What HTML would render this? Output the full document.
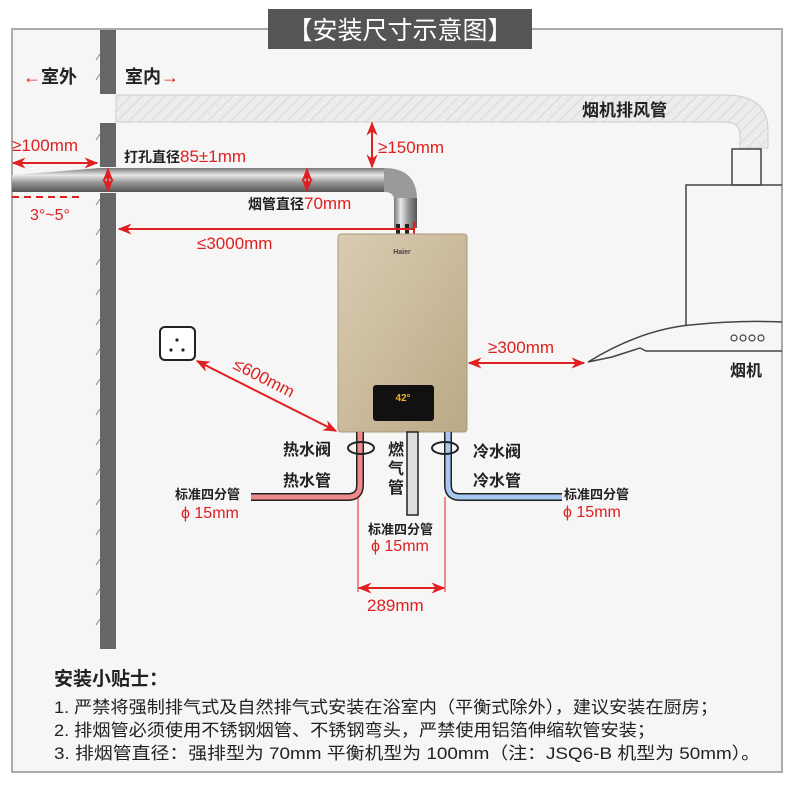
<!DOCTYPE html>
<html><head><meta charset="utf-8"><style>
body{margin:0;background:#fff}
svg{display:block}
text{font-family:"Liberation Sans","Noto Sans CJK SC",sans-serif}
</style></head><body>
<svg width="800" height="800" viewBox="0 0 800 800" xmlns="http://www.w3.org/2000/svg">
<defs>
<linearGradient id="pipeH" x1="0" y1="0" x2="0" y2="1">
<stop offset="0" stop-color="#777"/><stop offset="0.3" stop-color="#e8e8e8"/><stop offset="0.6" stop-color="#999"/><stop offset="1" stop-color="#555"/></linearGradient>
<linearGradient id="pipeV" x1="0" y1="0" x2="1" y2="0">
<stop offset="0" stop-color="#777"/><stop offset="0.3" stop-color="#e8e8e8"/><stop offset="0.6" stop-color="#999"/><stop offset="1" stop-color="#555"/></linearGradient>
<linearGradient id="gold" x1="0" y1="0" x2="1" y2="1">
<stop offset="0" stop-color="#d9ccb3"/><stop offset="0.5" stop-color="#cbbb9c"/><stop offset="1" stop-color="#b9a985"/></linearGradient>
<pattern id="hatch" width="8" height="8" patternUnits="userSpaceOnUse" patternTransform="rotate(45)"><rect width="8" height="8" fill="#ececec"/><line x1="0" y1="0" x2="0" y2="8" stroke="#dedede" stroke-width="3"/></pattern>
<marker id="a" viewBox="0 0 10 10" refX="9" refY="5" markerWidth="7" markerHeight="7" orient="auto-start-reverse"><path d="M0,1 L10,5 L0,9 L3,5z" fill="#e02020"/></marker>
</defs>
<rect x="12" y="29" width="770" height="743" fill="#f6f6f6" stroke="#aaa" stroke-width="2"/>
<rect x="268" y="9" width="264" height="40" fill="#555"/>
<text x="400" y="39" font-size="25" fill="#fff" text-anchor="middle">【安装尺寸示意图】</text>
<rect x="100" y="30" width="16" height="64" fill="#666"/>
<rect x="100" y="123" width="16" height="44" fill="#666"/>
<rect x="100" y="193" width="16" height="456" fill="#666"/>
<g stroke="#888" stroke-width="1">
<path d="M96,60 l4,-6 M96,80 l4,-6 M96,140 l4,-6 M96,205 l4,-6 M96,235 l4,-6 M96,265 l4,-6 M96,295 l4,-6 M96,325 l4,-6 M96,355 l4,-6 M96,385 l4,-6 M96,415 l4,-6 M96,445 l4,-6 M96,475 l4,-6 M96,505 l4,-6 M96,535 l4,-6 M96,565 l4,-6 M96,595 l4,-6 M96,625 l4,-6"/></g>
<path d="M116,95 H725 Q768,95 768,130 V148 H740 V135 Q740,122 725,122 H116 Z" fill="url(#hatch)" stroke="#ccc"/>
<rect x="732" y="149" width="29" height="36" fill="#f6f6f6" stroke="#444" stroke-width="1.5"/>
<path d="M686,325 V185 H782" fill="none" stroke="#444" stroke-width="1.5"/>
<path d="M588,362 Q640,330 690,325 Q740,320 782,322 M588,362 L612,357 L640,348 L646,351 L782,351" fill="none" stroke="#444" stroke-width="1.5"/>
<g fill="none" stroke="#444" stroke-width="1.2"><circle cx="734" cy="338" r="3"/><circle cx="743" cy="338" r="3"/><circle cx="752" cy="338" r="3"/><circle cx="761" cy="338" r="3"/></g>
<text x="730" y="376" font-size="16" font-weight="bold" fill="#222">烟机</text>
<text x="582" y="116" font-size="17" font-weight="bold" fill="#222">烟机排风管</text>
<path d="M12,175 L100,168 L100,192 L12,192 Z" fill="url(#pipeH)"/>
<rect x="100" y="168" width="284" height="24" fill="url(#pipeH)"/>
<path d="M384,168 Q417,168 417,200 V225 H394 V200 Q394,192 384,192 Z" fill="#9a9a9a"/>
<rect x="394" y="198" width="23" height="30" fill="url(#pipeV)"/>
<rect x="396" y="224" width="4" height="10" fill="#222"/><rect x="405" y="224" width="4" height="10" fill="#222"/>
<text x="23" y="83" font-size="18" font-weight="bold" fill="#222"><tspan fill="#e02020">←</tspan>室外</text>
<text x="125" y="83" font-size="18" font-weight="bold" fill="#222">室内<tspan fill="#e02020">→</tspan></text>
<text x="12" y="151" font-size="17" fill="#e02020">≥100mm</text>
<line x1="13" y1="163" x2="97" y2="163" stroke="#e02020" stroke-width="2" marker-start="url(#a)" marker-end="url(#a)"/>
<text x="124" y="162" font-size="14" font-weight="bold" fill="#222">打孔直径<tspan font-size="17" font-weight="normal" fill="#e02020">85±1mm</tspan></text>
<line x1="108" y1="169" x2="108" y2="191" stroke="#e02020" stroke-width="2" marker-start="url(#a)" marker-end="url(#a)"/>
<line x1="372" y1="123" x2="372" y2="167" stroke="#e02020" stroke-width="2" marker-start="url(#a)" marker-end="url(#a)"/>
<text x="378" y="153" font-size="17" fill="#e02020">≥150mm</text>
<line x1="307" y1="169" x2="307" y2="191" stroke="#e02020" stroke-width="2" marker-start="url(#a)" marker-end="url(#a)"/>
<text x="248" y="209" font-size="14" font-weight="bold" fill="#222">烟管直径<tspan font-size="17" font-weight="normal" fill="#e02020">70mm</tspan></text>
<line x1="12" y1="197" x2="80" y2="197" stroke="#e02020" stroke-width="2" stroke-dasharray="7,5"/>
<text x="30" y="220" font-size="16" fill="#e02020">3°~5°</text>
<line x1="119" y1="229" x2="414" y2="229" stroke="#e02020" stroke-width="2" marker-start="url(#a)"/>
<line x1="414" y1="222" x2="414" y2="234" stroke="#e02020" stroke-width="2"/>
<text x="197" y="249" font-size="17" fill="#e02020">≤3000mm</text>
<rect x="338" y="234" width="129" height="198" rx="3" fill="url(#gold)" stroke="#a8987a"/>
<text x="402" y="254" font-size="7" fill="#444" text-anchor="middle" font-weight="bold">Haier</text>
<rect x="373" y="385" width="61" height="36" rx="3" fill="#111"/>
<text x="403" y="401" font-size="10" fill="#f0b020" text-anchor="middle" font-weight="bold">42°</text>
<rect x="160" y="327" width="35" height="33" rx="5" fill="#fff" stroke="#222" stroke-width="2"/>
<circle cx="177" cy="340" r="1.6" fill="#222"/><circle cx="171" cy="350" r="1.6" fill="#222"/><circle cx="183" cy="350" r="1.6" fill="#222"/>
<line x1="197" y1="361" x2="336" y2="431" stroke="#e02020" stroke-width="2" marker-start="url(#a)" marker-end="url(#a)"/>
<text x="232" y="368" font-size="17" fill="#e02020" transform="rotate(27 232 368)">≤600mm</text>
<line x1="469" y1="363" x2="584" y2="363" stroke="#e02020" stroke-width="2" marker-start="url(#a)" marker-end="url(#a)"/>
<text x="488" y="353" font-size="17" fill="#e02020">≥300mm</text>
<path d="M360,432 V485 Q360,497 348,497 H251" fill="none" stroke="#222" stroke-width="8"/>
<path d="M360,432 V485 Q360,497 348,497 H251" fill="none" stroke="#f08a8a" stroke-width="5"/>
<path d="M448,432 V485 Q448,497 460,497 H562" fill="none" stroke="#222" stroke-width="8"/>
<path d="M448,432 V485 Q448,497 460,497 H562" fill="none" stroke="#a8c8f0" stroke-width="5"/>
<rect x="407" y="432" width="11" height="83" fill="#ddd" stroke="#222" stroke-width="1.5"/>
<ellipse cx="361" cy="448" rx="13" ry="6" fill="none" stroke="#222" stroke-width="2"/>
<ellipse cx="445" cy="448" rx="13" ry="6" fill="none" stroke="#222" stroke-width="2"/>
<g font-size="16" font-weight="bold" fill="#222">
<text x="283" y="455">热水阀</text><text x="283" y="486">热水管</text>
<text x="473" y="457">冷水阀</text><text x="473" y="486">冷水管</text>
<text x="388" y="455">燃</text><text x="388" y="474">气</text><text x="388" y="493">管</text>
</g>
<g font-size="13" font-weight="bold" fill="#222">
<text x="175" y="499">标准四分管</text><text x="564" y="499">标准四分管</text><text x="368" y="534">标准四分管</text>
</g>
<g font-size="16" fill="#e02020">
<text x="181" y="518">ϕ 15mm</text><text x="563" y="517">ϕ 15mm</text><text x="371" y="551">ϕ 15mm</text>
</g>
<line x1="358" y1="497" x2="358" y2="592" stroke="#e02020" stroke-width="1"/>
<line x1="445" y1="497" x2="445" y2="592" stroke="#e02020" stroke-width="1"/>
<line x1="359" y1="588" x2="444" y2="588" stroke="#e02020" stroke-width="2" marker-start="url(#a)" marker-end="url(#a)"/>
<text x="367" y="611" font-size="17" fill="#e02020">289mm</text>
<text x="54" y="685" font-size="19" font-weight="bold" fill="#222">安装小贴士：</text>
<g font-size="17" fill="#222">
<text x="54" y="713" textLength="664" lengthAdjust="spacingAndGlyphs">1. 严禁将强制排气式及自然排气式安装在浴室内（平衡式除外），建议安装在厨房；</text>
<text x="54" y="736" textLength="601" lengthAdjust="spacingAndGlyphs">2. 排烟管必须使用不锈钢烟管、不锈钢弯头，严禁使用铝箔伸缩软管安装；</text>
<text x="54" y="759" textLength="706" lengthAdjust="spacingAndGlyphs">3. 排烟管直径：强排型为 70mm 平衡机型为 100mm（注：JSQ6-B 机型为 50mm）。</text>
</g>
</svg>
</body></html>
